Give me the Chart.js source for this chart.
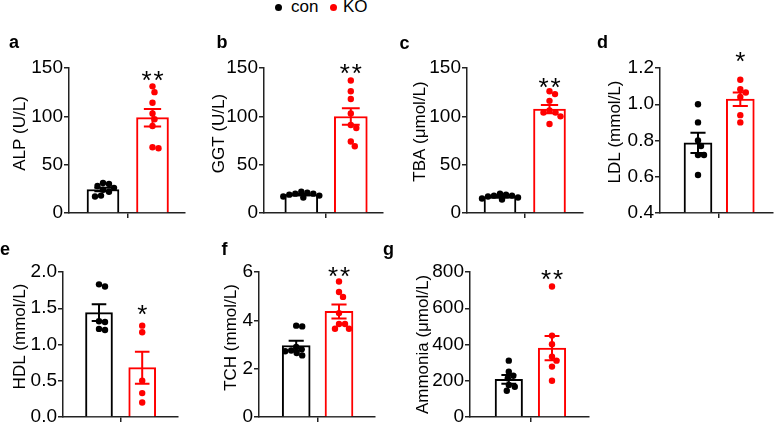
<!DOCTYPE html>
<html>
<head>
<meta charset="utf-8">
<script src="https://cdn.jsdelivr.net/npm/chart.js@4.4.1/dist/chart.umd.min.js"></script>
<style>
    body { margin: 0; background: #fff; }
    #lienzo { position: relative; width: 784px; height: 431px; overflow: hidden; font-family: "Liberation Sans", Arial, sans-serif; color: #000; }
    #lienzo canvas { position: absolute; }
    .letra { position: absolute; font-weight: bold; font-size: 18px; line-height: 18px; }
    .leyenda { position: absolute; font-size: 17px; line-height: 17px; }
    .punto { position: absolute; width: 7px; height: 7px; border-radius: 50%; }
</style>
</head>
<body>
<div id="lienzo">
    <span class="punto" style="left:275px;top:4px;background:#000"></span>
    <span class="leyenda" style="left:291px;top:-2px">con</span>
    <span class="punto" style="left:330px;top:4px;background:#f00"></span>
    <span class="leyenda" style="left:343px;top:-2px">KO</span>
</div>
<script>
// Grupos
const grupos = ['con', 'KO'];
const colores = ['#000000', '#ff0000'];

// a - ALP (U/L)
const alpCon = [31, 30, 28, 26, 24, 22, 18, 17];
const alpKO = [131, 125, 114, 103, 97, 90, 68, 67];
const alpMedia = [24.3, 98.6];
const alpSem = [1.8, 9.0];

// b - GGT (U/L)
const ggtCon = [22, 21, 20, 20, 19, 18, 17, 16];
const ggtKO = [137, 126, 118, 103, 91, 88, 74, 69];
const ggtMedia = [19, 99.8];
const ggtSem = [0.7, 8.6];

// c - TBA (μmol/L)
const tbaCon = [20, 19, 18, 18, 17, 16, 15, 14];
const tbaKO = [126, 123, 116, 106, 104, 104, 100, 92];
const tbaMedia = [16.8, 107.5];
const tbaSem = [0.7, 4.3];

// d - LDL (mmol/L)
const ldlCon = [1.0, 0.9, 0.8, 0.77, 0.72, 0.72, 0.61];
const ldlKO = [1.135, 1.083, 1.065, 1.04, 0.94, 0.90];
const ldlMedia = [0.787, 1.028];
const ldlSem = [0.056, 0.037];

// e - HDL (mmol/L)
const hdlCon = [1.83, 1.80, 1.32, 1.31, 1.215, 1.20];
const hdlKO = [1.26, 1.17, 0.50, 0.33, 0.20];
const hdlMedia = [1.44, 0.68];
const hdlSem = [0.115, 0.22];

// f - TCH (mmol/L)
const tchCon = [3.78, 3.75, 2.9, 2.8, 2.75, 2.72, 2.65, 2.55];
const tchKO = [5.61, 5.17, 4.97, 4.30, 3.85, 3.85, 3.65, 3.65];
const tchMedia = [2.96, 4.37];
const tchSem = [0.2, 0.29];

// g - Ammonia (μmol/L)
const nh3Con = [311, 250, 228, 214, 177, 167, 145];
const nh3KO = [720, 449, 402, 333, 311, 278, 200];
const nh3Media = [208, 380];
const nh3Sem = [24, 67];

// Significancia
const estrellas = ['**', '**', '**', '*', '*', '**', '**'];
const estrellasY = [144.3, 151, 136.2, 1.272, 1.499, 6.08, 792.8];

// Paneles (solo maquetacion)
const paneles = [
    { letra: 'a', titulo: 'ALP (U/L)', con: alpCon, ko: alpKO, media: alpMedia, sem: alpSem, min: 0, max: 150, paso: 50, dec: 0,
      ejeX: 69, finX: 185, arriba: 68, abajo: 213, c1: 103, c2: 152.5, ancho: 32, tOff: 49, tDy: -7, lx: 9, ly: 48.5 },
    { letra: 'b', titulo: 'GGT (U/L)', con: ggtCon, ko: ggtKO, media: ggtMedia, sem: ggtSem, min: 0, max: 150, paso: 50, dec: 0,
      ejeX: 264, finX: 383, arriba: 68, abajo: 213, c1: 301.3, c2: 350.8, ancho: 33, tOff: 45, tDy: -7, lx: 216.5, ly: 48.5 },
    { letra: 'c', titulo: 'TBA (μmol/L)', con: tbaCon, ko: tbaKO, media: tbaMedia, sem: tbaSem, min: 0, max: 150, paso: 50, dec: 0,
      ejeX: 467, finX: 583, arriba: 68, abajo: 213, c1: 500, c2: 549.5, ancho: 32, tOff: 47, tDy: -9, lx: 399.5, ly: 49 },
    { letra: 'd', titulo: 'LDL (mmol/L)', con: ldlCon, ko: ldlKO, media: ldlMedia, sem: ldlSem, min: 0.4, max: 1.2, paso: 0.2, dec: 1,
      ejeX: 660, finX: 773, arriba: 68, abajo: 213, c1: 698, c2: 740.3, ancho: 28, tOff: 44.5, tDy: -8.5, lx: 597, ly: 48.5 },
    { letra: 'e', titulo: 'HDL (mmol/L)', con: hdlCon, ko: hdlKO, media: hdlMedia, sem: hdlSem, min: 0, max: 2, paso: 0.5, dec: 1,
      ejeX: 63, finX: 178, arriba: 272, abajo: 417, c1: 99, c2: 142.2, ancho: 27, tOff: 42.7, tDy: -8, lx: 0, ly: 255 },
    { letra: 'f', titulo: 'TCH (mmol/L)', con: tchCon, ko: tchKO, media: tchMedia, sem: tchSem, min: 0, max: 6, paso: 2, dec: 0,
      ejeX: 259, finX: 375, arriba: 272, abajo: 417, c1: 296.2, c2: 339, ancho: 28, tOff: 27.5, tDy: -7, lx: 221.5, ly: 255 },
    { letra: 'g', titulo: 'Ammonia (μmol/L)', con: nh3Con, ko: nh3KO, media: nh3Media, sem: nh3Sem, min: 0, max: 800, paso: 200, dec: 0,
      ejeX: 470, finX: 589, arriba: 272, abajo: 417, c1: 508.8, c2: 552, ancho: 27.5, tOff: 46.5, tDy: 0, lx: 383, ly: 255 }
];

const lienzo = document.getElementById('lienzo');
const IZQ = 66, DER = 8, SUP = 40, INF = 14;

// Puntos sin solaparse (enjambre)
function enjambre(valores, centro, yPx, xPx) {
    const ordenados = [...valores].sort((p, q) => q - p);
    const puestos = [];
    const D = 6;
    return ordenados.map(v => {
        const py = v * yPx;
        let off = 0;
        for (let k = 0; k < 200; k++) {
            const o = (k % 2 === 1 ? 1 : -1) * Math.ceil(k / 2) * 0.5;
            const libre = puestos.every(p => (o - p.o) ** 2 + (py - p.py) ** 2 >= D * D);
            if (libre) { off = o; break; }
        }
        puestos.push({ o: off, py: py });
        return { x: centro + off / xPx, y: v };
    });
}

function crearPanel(p, idx) {
    const izq = p.ejeX - IZQ;
    const sup = p.arriba - SUP;
    const ancho = p.finX + DER - izq;
    const alto = p.abajo + INF - sup;

    const cv = document.createElement('canvas');
    cv.width = ancho;
    cv.height = alto;
    cv.style.left = izq + 'px';
    cv.style.top = sup + 'px';
    cv.style.width = ancho + 'px';
    cv.style.height = alto + 'px';
    lienzo.appendChild(cv);

    const letra = document.createElement('span');
    letra.className = 'letra';
    letra.textContent = p.letra;
    letra.style.left = p.lx + 'px';
    letra.style.top = (p.ly - 15.2) + 'px';
    lienzo.appendChild(letra);

    const unidad = p.c2 - p.c1;
    const xMin = 1 - (p.c1 - p.ejeX) / unidad;
    const xMax = 2 + (p.finX - p.c2) / unidad;
    const yPx = (p.abajo - p.arriba) / (p.max - p.min);

    const extras = {
        id: 'extras' + idx,
        afterDatasetsDraw(chart) {
            const { ctx, scales: { x, y } } = chart;
            ctx.save();
            ctx.lineWidth = 2;
            p.media.forEach((m, i) => {
                const px = x.getPixelForValue(i + 1);
                const hi = y.getPixelForValue(m + p.sem[i]);
                const lo = y.getPixelForValue(m - p.sem[i]);
                const cap = p.ancho * 0.27;
                ctx.strokeStyle = colores[i];
                ctx.beginPath();
                ctx.moveTo(px, hi); ctx.lineTo(px, lo);
                ctx.moveTo(px - cap, hi); ctx.lineTo(px + cap, hi);
                ctx.moveTo(px - cap, lo); ctx.lineTo(px + cap, lo);
                ctx.stroke();
            });
            ctx.restore();
        },
        afterDraw(chart) {
            const { ctx, chartArea, scales: { x, y } } = chart;
            // titulo del eje
            ctx.save();
            ctx.translate(chartArea.left - p.tOff, (chartArea.top + chartArea.bottom) / 2 + p.tDy);
            ctx.rotate(-Math.PI / 2);
            ctx.font = '17px "Liberation Sans", Arial';
            ctx.fillStyle = '#000';
            ctx.textAlign = 'center';
            ctx.textBaseline = 'middle';
            ctx.fillText(p.titulo, 0, 0);
            ctx.restore();
            // asteriscos
            const txt = estrellas[idx];
            const sx = x.getPixelForValue(2);
            const sy = y.getPixelForValue(estrellasY[idx]) + 26 * 0.58;
            ctx.save();
            ctx.font = '26px "Liberation Sans", Arial';
            ctx.fillStyle = '#000';
            ctx.textAlign = 'center';
            ctx.textBaseline = 'alphabetic';
            for (let k = 0; k < txt.length; k++) {
                ctx.fillText('*', sx + (k - (txt.length - 1) / 2) * 12, sy);
            }
            ctx.restore();
        }
    };

    new Chart(cv, {
        type: 'bar',
        data: {
            datasets: [
                {
                    type: 'scatter',
                    label: grupos[0],
                    data: enjambre(p.con, 1, yPx, unidad),
                    backgroundColor: colores[0],
                    pointRadius: 3.2,
                    pointBorderWidth: 0,
                    order: 1
                },
                {
                    type: 'scatter',
                    label: grupos[1],
                    data: enjambre(p.ko, 2, yPx, unidad),
                    backgroundColor: colores[1],
                    pointRadius: 3.2,
                    pointBorderWidth: 0,
                    order: 1
                },
                {
                    type: 'bar',
                    label: 'media',
                    data: p.media.map((m, i) => ({ x: i + 1, y: m })),
                    backgroundColor: '#ffffff',
                    borderColor: colores,
                    borderWidth: 2,
                    borderSkipped: 'bottom',
                    barThickness: p.ancho,
                    base: p.min,
                    order: 3
                }
            ]
        },
        options: {
            responsive: false,
            animation: false,
            events: [],
            layout: { padding: { top: SUP, right: DER, left: 0, bottom: 0 } },
            plugins: {
                legend: { display: false },
                tooltip: { enabled: false }
            },
            scales: {
                x: {
                    type: 'linear',
                    offset: false,
                    bounds: 'data',
                    min: xMin,
                    max: xMax,
                    afterBuildTicks: s => { s.ticks = [{ value: 1.5 }]; },
                    ticks: { display: false },
                    grid: { offset: false, drawOnChartArea: false, tickLength: 5, color: '#222', lineWidth: 1.5 },
                    border: { display: true, color: '#222', width: 1.5 },
                    afterFit: s => { s.height = INF; }
                },
                y: {
                    min: p.min,
                    max: p.max,
                    ticks: {
                        stepSize: p.paso,
                        color: '#000',
                        padding: 1,
                        font: { family: 'Liberation Sans', size: 19 },
                        callback: v => Number(v).toFixed(p.dec)
                    },
                    grid: { drawOnChartArea: false, tickLength: 5, color: '#222', lineWidth: 1.5 },
                    border: { display: true, color: '#222', width: 1.5 },
                    afterFit: s => { s.width = IZQ; }
                }
            }
        },
        plugins: [extras]
    });
}

paneles.forEach((p, i) => crearPanel(p, i));
</script>
</body>
</html>
